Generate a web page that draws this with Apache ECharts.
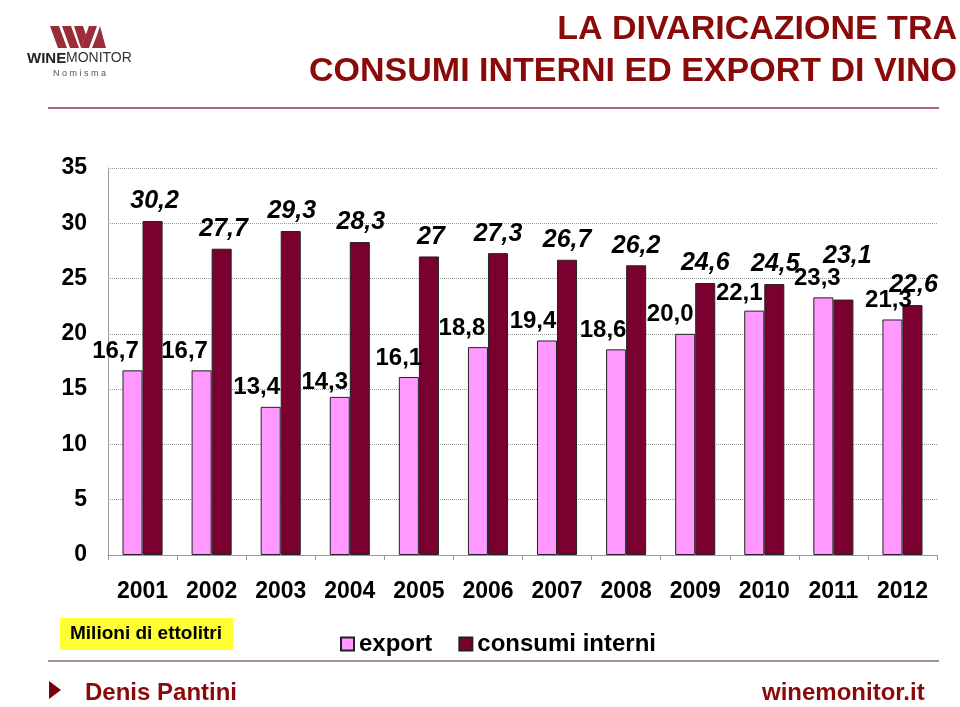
<!DOCTYPE html>
<html><head><meta charset="utf-8">
<script src="https://cdn.jsdelivr.net/npm/echarts@6/dist/echarts.min.js"></script>
<style>html,body{margin:0;padding:0;background:#fff}#c{width:960px;height:707px}</style>
</head><body><div id="c"></div>
<script>
const years = ['2001','2002','2003','2004','2005','2006','2007','2008','2009','2010','2011','2012'];
const exportVals = [16.7,16.7,13.4,14.3,16.1,18.8,19.4,18.6,20.0,22.1,23.3,21.3];
const consumiVals = [30.2,27.7,29.3,28.3,27,27.3,26.7,26.2,24.6,24.5,23.1,22.6];
const exportLabels = ['16,7','16,7','13,4','14,3','16,1','18,8','19,4','18,6','20,0','22,1','23,3','21,3'];
const consumiLabels = ['30,2','27,7','29,3','28,3','27','27,3','26,7','26,2','24,6','24,5','23,1','22,6'];
const yTicks = [0,5,10,15,20,25,30,35];

const exportOffsets = [[-17,0],[-17,0],[-14,0],[-15,4],[-10,0],[-16,0],[-14,0],[-13,0],[-15,0],[-15,2],[-6,0],[-4,0]];
const consumiOffsets = [[2,0],[2,0],[1,0],[1,0],[2,0],[0,0],[0,0],[0,0],[0,0],[1,0],[4,-24],[1,0]];

const chart = echarts.init(document.getElementById('c'));
const DARK = '#7a0030', PINK = '#ff99ff', TITLE = '#8a0a0a', LOGO = '#9b2d3a';
const FF = 'Liberation Sans, Arial, sans-serif';

chart.setOption({
  animation:false,
  backgroundColor:'#fff',
  grid:{left:108,right:23,top:168,bottom:152,containLabel:false},
  legend:{
    left:335, top:627, itemWidth:13, itemHeight:13, itemGap:26, icon:'rect',
    textStyle:{fontFamily:FF,fontSize:24,fontWeight:'bold',color:'#000'},
    data:['export','consumi interni']
  },
  xAxis:{
    type:'category', data:years,
    axisLine:{lineStyle:{color:'#999',width:1}},
    axisTick:{show:true,length:5,lineStyle:{color:'#999'}},
    axisLabel:{fontFamily:FF,fontSize:23,fontWeight:'bold',color:'#000',margin:25}
  },
  yAxis:{
    type:'value', min:yTicks[0], max:yTicks[yTicks.length-1], interval:5,
    axisLine:{show:true,lineStyle:{color:'#999'}},
    axisTick:{show:false},
    axisLabel:{fontFamily:FF,fontSize:23,fontWeight:'bold',color:'#000',margin:21},
    splitLine:{lineStyle:{color:'#999',type:'dotted',width:1}}
  },
  series:[
    {
      name:'export', type:'bar', barGap:'0%', barCategoryGap:'42%',
      itemStyle:{color:PINK,borderColor:'#222',borderWidth:1},
      data: exportVals.map((v,i)=>({value:v,label:{formatter:exportLabels[i],offset:exportOffsets[i]}})),
      label:{show:true,position:'top',distance:7,fontFamily:FF,fontSize:24,fontWeight:'bold',color:'#000'}
    },
    {
      name:'consumi interni', type:'bar', barGap:'0%', barCategoryGap:'42%',
      itemStyle:{color:DARK,borderColor:'#222',borderWidth:1},
      data: consumiVals.map((v,i)=>({value:v,label:{formatter:consumiLabels[i],offset:consumiOffsets[i]}})),
      label:{show:true,position:'top',distance:7,fontFamily:FF,fontSize:25,fontWeight:'bold',fontStyle:'italic',color:'#000'}
    }
  ],
  graphic:[
    {type:'text',right:3,top:13,style:{text:'LA DIVARICAZIONE TRA',font:'bold 34px '+FF,fill:TITLE,textAlign:'right'}},
    {type:'text',right:3,top:55,style:{text:'CONSUMI INTERNI ED EXPORT DI VINO',font:'bold 34px '+FF,fill:TITLE,textAlign:'right'}},
    {type:'line',shape:{x1:48,y1:108,x2:939,y2:108},style:{stroke:'#a03545',lineWidth:1.5}},
    {type:'line',shape:{x1:48,y1:661,x2:939,y2:661},style:{stroke:'#a89090',lineWidth:2}},
    // logo marks
    {type:'polygon',shape:{points:[[50,26],[59,26],[67,48],[58,48]]},style:{fill:LOGO}},
    {type:'polygon',shape:{points:[[62,26],[71,26],[79,48],[70,48]]},style:{fill:LOGO}},
    {type:'polygon',shape:{points:[[74,26],[83,26],[86,35],[81,48]]},style:{fill:LOGO}},
    {type:'polygon',shape:{points:[[81,48],[89,26],[97,26],[89,48]]},style:{fill:LOGO}},
    {type:'polygon',shape:{points:[[92,48],[97,35],[100,26],[106,48]]},style:{fill:LOGO}},
    {type:'text',left:27,top:51,style:{text:'WINE',font:'bold 15px '+FF,fill:'#222'}},
    {type:'text',left:66,top:51,style:{text:'MONITOR',font:'14px '+FF,fill:'#333'}},
    {type:'text',left:53,top:69,style:{text:'N o m i s m a',font:'9px '+FF,fill:'#555'}},
    // units box
    {type:'rect',shape:{x:60,y:618,width:173,height:32},style:{fill:'#ffff33'}},
    {type:'text',left:70,top:624,style:{text:'Milioni di ettolitri',font:'bold 19px '+FF,fill:'#000'}},
    // footer
    {type:'polygon',shape:{points:[[49,681],[61,690],[49,699]]},style:{fill:'#7a0010'}},
    {type:'text',left:85,top:681,style:{text:'Denis Pantini',font:'bold 24px '+FF,fill:TITLE}},
    {type:'text',left:762,top:681,style:{text:'winemonitor.it',font:'bold 24px '+FF,fill:TITLE}}
  ]
});
</script></body></html>
